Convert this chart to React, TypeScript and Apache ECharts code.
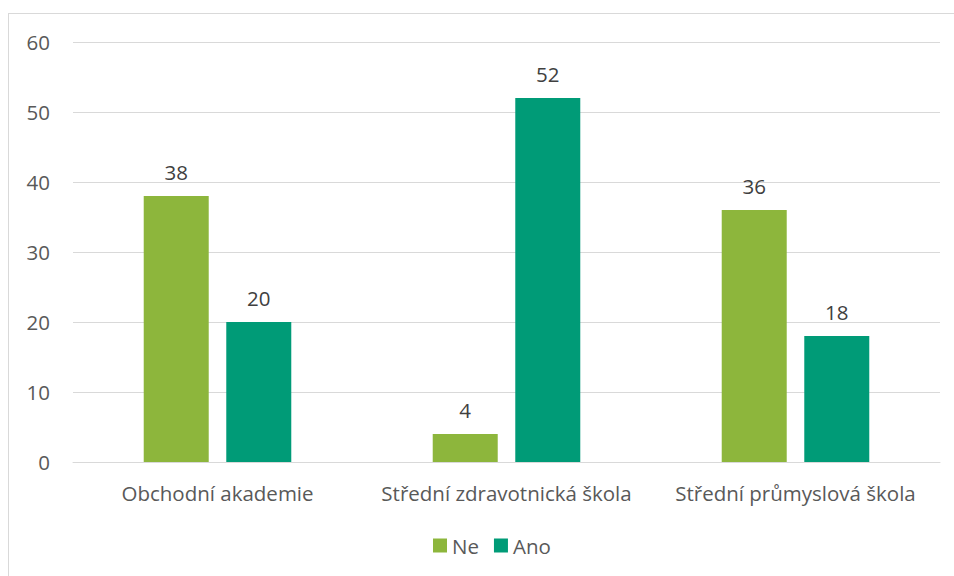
import React, { useEffect, useRef } from "react";
import * as echarts from "echarts";

const categories = ["Obchodní akademie", "Střední zdravotnická škola", "Střední průmyslová škola"];
const seriesNames = ["Ne", "Ano"];
const neValues = [38, 4, 36];
const anoValues = [20, 52, 18];
const colors = ["#8DB63C", "#009B77"];

export default function App() {
  const ref = useRef<HTMLDivElement>(null);
  useEffect(() => {
    if (!ref.current) return;
    const chart = echarts.init(ref.current, undefined, { renderer: "svg" });
    const font = "'Open Sans', 'Noto Sans', sans-serif";
    const fs = 20.5;
    chart.setOption({
      animation: false,
      textStyle: { fontFamily: font },
      grid: { left: 73, right: 14, top: 42, bottom: 114 },
      legend: {
        data: seriesNames,
        left: 433,
        top: 535,
        padding: 0,
        itemWidth: 14,
        itemHeight: 14,
        itemGap: 15,
        icon: "rect",
        textStyle: { fontSize: fs, color: "#595959", fontFamily: font },
      },
      xAxis: {
        type: "category",
        data: categories,
        axisLine: { lineStyle: { color: "#d9d9d9", width: 1 } },
        axisTick: { show: false },
        axisLabel: { fontSize: fs, color: "#595959", margin: 20, interval: 0, hideOverlap: false, fontFamily: font },
      },
      yAxis: {
        type: "value",
        min: 0,
        max: 60,
        interval: 10,
        axisLine: { show: false },
        axisTick: { show: false },
        splitLine: { lineStyle: { color: "#d9d9d9", width: 1 } },
        axisLabel: { fontSize: fs, color: "#595959", margin: 23, fontFamily: font },
      },
      series: [
        {
          name: seriesNames[0],
          type: "bar",
          data: neValues,
          barWidth: 65,
          barGap: "27%",
          itemStyle: { color: colors[0] },
          label: { show: true, position: "top", distance: 14, fontSize: fs, color: "#404040", fontFamily: font },
        },
        {
          name: seriesNames[1],
          type: "bar",
          data: anoValues,
          barWidth: 65,
          barGap: "27%",
          itemStyle: { color: colors[1] },
          label: { show: true, position: "top", distance: 14, fontSize: fs, color: "#404040", fontFamily: font },
        },
      ],
    });
    return () => chart.dispose();
  }, []);
  return (
    <div style={{ position: "fixed", left: 0, top: 0, width: 954, height: 576, background: "#fff" }}>
      <div
        style={{
          position: "absolute",
          left: 8,
          top: 13,
          width: 960,
          height: 600,
          borderLeft: "1px solid #d9d9d9",
          borderTop: "1px solid #d9d9d9",
        }}
      />
      <div ref={ref} style={{ position: "absolute", left: 0, top: 0, width: 954, height: 576 }} />
    </div>
  );
}
